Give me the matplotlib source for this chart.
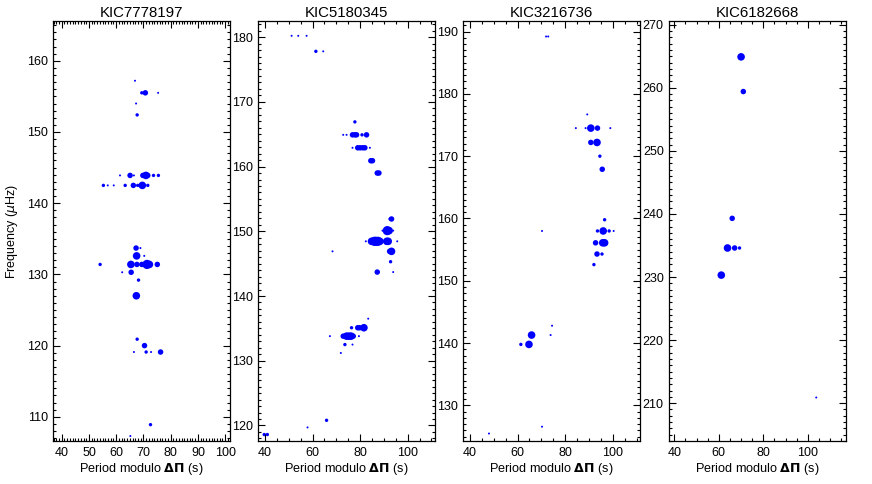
import matplotlib
matplotlib.use("Agg")
import matplotlib.pyplot as plt
from matplotlib.ticker import MultipleLocator

plt.rcParams["font.family"] = ["Liberation Sans", "DejaVu Sans"]

# KIC7778197
p1_x = [66.9, 69.4, 70.7, 75.4, 67.3, 67.7,
        61.4, 65.1, 66.5, 69.8, 70.9, 71.6, 73.7, 75.5,
        55.3, 56.9, 59.1, 63.3, 66.3, 67.9, 69.6, 71.6,
        54.1, 65.4, 67.6, 69.4, 71.3, 72.2, 75.1,
        67.3, 68.9, 67.5, 70.3, 62.2, 65.5, 68.2, 67.4, 67.7, 70.4,
        66.5, 71.0, 72.8, 76.3, 72.6, 65.2]
p1_y = [157.2, 155.5, 155.5, 155.5, 154.0, 152.4,
        143.9, 143.9, 143.9, 143.9, 143.9, 143.9, 143.9, 143.9,
        142.5, 142.5, 142.5, 142.5, 142.5, 142.5, 142.5, 142.5,
        131.4, 131.4, 131.4, 131.4, 131.4, 131.4, 131.4,
        133.7, 133.7, 132.6, 132.6, 130.3, 130.3, 129.2, 127.0, 120.9, 120.0,
        119.1, 119.1, 119.1, 119.1, 108.9, 107.3]
p1_amp = [1, 2, 3, 1, 1, 2,
          1, 3, 1, 3, 4, 3, 2, 2,
          2, 1, 1, 2, 3, 2, 4, 2,
          2, 4, 3, 3, 5, 4, 3,
          3, 1, 4, 1, 1, 3, 2, 4, 2, 3,
          1, 2, 1, 3, 2, 1]

# KIC5180345
p2_x = [51.2, 54.0, 57.5, 61.4, 64.5, 77.8,
        72.9, 74.3, 76.8, 77.8, 78.5, 80.8, 82.7,
        76.8, 79.0, 80.0, 81.1, 82.0, 84.1,
        84.5, 85.2, 87.2, 87.9, 93.2, 92.6,
        89.4, 91.4, 92.2, 93.9,
        82.4, 84.8, 86.0, 86.6, 87.5, 88.3, 91.8, 91.2, 95.6,
        93.2, 92.4, 92.8, 87.2, 93.9, 68.4, 83.4,
        76.4, 79.0, 79.8, 81.6,
        67.3, 72.9, 74.3, 75.3, 76.2, 77.1, 79.5,
        73.6, 76.8, 71.9, 65.9, 57.9, 39.7, 41.0]
p2_y = [180.2, 180.2, 180.2, 177.8, 177.8, 166.9,
        164.9, 164.9, 164.9, 164.9, 164.9, 164.9, 164.9,
        162.9, 162.9, 162.9, 162.9, 162.9, 162.9,
        160.9, 160.9, 159.0, 159.0, 151.9, 151.9,
        150.1, 150.1, 150.1, 150.1,
        148.45, 148.45, 148.45, 148.45, 148.45, 148.45, 148.45, 148.45, 148.45,
        146.9, 146.9, 145.3, 143.7, 143.7, 146.9, 136.5,
        135.1, 135.1, 135.1, 135.1,
        133.8, 133.8, 133.8, 133.8, 133.8, 133.8, 133.8,
        132.5, 132.5, 131.2, 120.8, 119.7, 118.6, 118.6]
p2_amp = [1, 1, 1, 2, 1, 2,
          1, 1, 3, 3, 3, 2, 3,
          1, 3, 3, 3, 3, 1,
          3, 3, 3, 3, 3, 2,
          1, 5, 4, 1,
          1, 4, 5, 5, 5, 4, 4, 4, 1,
          4, 3, 2, 3, 1, 1, 1,
          2, 3, 3, 4,
          1, 3, 4, 4, 4, 3, 1,
          2, 1, 1, 2, 1, 2, 2]

# KIC3216736
p3_x = [72.0, 72.9, 89.3,
        84.5, 88.6, 90.8, 93.6, 99.0,
        90.8, 93.4, 94.6, 95.6, 96.6,
        70.3, 93.6, 96.0, 98.5, 100.4,
        92.8, 95.8, 96.6, 93.4, 95.5,
        92.1, 74.5, 73.9, 65.9, 61.4, 64.8, 70.3, 48.0]
p3_y = [189.2, 189.2, 176.7,
        174.5, 174.5, 174.5, 174.5, 174.5,
        172.2, 172.2, 170.0, 167.9, 159.8,
        158.0, 158.0, 158.0, 158.0, 158.0,
        156.1, 156.1, 156.1, 154.3, 154.3,
        152.6, 142.8, 141.3, 141.3, 139.8, 139.8, 126.6, 125.5]
p3_amp = [1, 1, 1,
          1, 1, 4, 3, 1,
          3, 4, 2, 3, 2,
          1, 2, 4, 2, 1,
          3, 4, 4, 3, 2,
          2, 1, 1, 4, 2, 4, 1, 1]

# KIC6182668
p4_x = [70.0, 71.0, 66.0, 63.9, 67.1, 69.3, 61.1, 103.8]
p4_y = [264.9, 259.4, 239.3, 234.6, 234.6, 234.6, 230.3, 210.9]
p4_amp = [4, 3, 3, 4, 3, 2, 4, 1]

names = ["KIC7778197", "KIC5180345", "KIC3216736", "KIC6182668"]
xlims = [(36.9, 101.9), (37.2, 111.6), (37.2, 111.6), (37.7, 117.3)]
ylims = [(106.6, 165.6), (117.6, 182.5), (124.3, 191.7), (204.0, 270.6)]
x_major = [10, 20, 20, 20]
x_minor = [1, 5, 5, 5]

panels = [(p1_x, p1_y, p1_amp), (p2_x, p2_y, p2_amp),
          (p3_x, p3_y, p3_amp), (p4_x, p4_y, p4_amp)]

# marker diameter in pixels per amplitude level
diam = {1: 2.0, 2: 3.4, 3: 5.5, 4: 7.6, 5: 9.2}

fig = plt.figure(figsize=(8.72, 4.84), dpi=100)
lefts = [0.0611, 0.2962, 0.5313, 0.7675]

for i, (px, py, pa) in enumerate(panels):
    ax = fig.add_axes([lefts[i], 0.0888, 0.203, 0.868])
    sizes = [(diam[a] * 0.72) ** 2 for a in pa]
    ax.scatter(px, py, s=sizes, color="#0000ff", edgecolors="none")
    ax.set_xlim(*xlims[i])
    ax.set_ylim(*ylims[i])
    ax.xaxis.set_major_locator(MultipleLocator(x_major[i]))
    ax.xaxis.set_minor_locator(MultipleLocator(x_minor[i]))
    ax.yaxis.set_major_locator(MultipleLocator(10))
    ax.yaxis.set_minor_locator(MultipleLocator(1))
    ax.tick_params(which="both", direction="in", top=True, right=True,
                   labelsize=9, width=0.8)
    ax.tick_params(which="major", length=5, pad=4)
    ax.tick_params(which="minor", length=2.5)
    for sp in ax.spines.values():
        sp.set_linewidth(0.9)
    ax.set_title(names[i], fontsize=10.8, pad=3)
    ax.set_xlabel(r"Period modulo $\mathbf{\Delta\Pi}$ (s)", fontsize=9.1, labelpad=2)
    if i == 0:
        ax.set_ylabel(r"Frequency ($\mu$Hz)", fontsize=9, labelpad=5)

fig.savefig("out.png", dpi=100)
